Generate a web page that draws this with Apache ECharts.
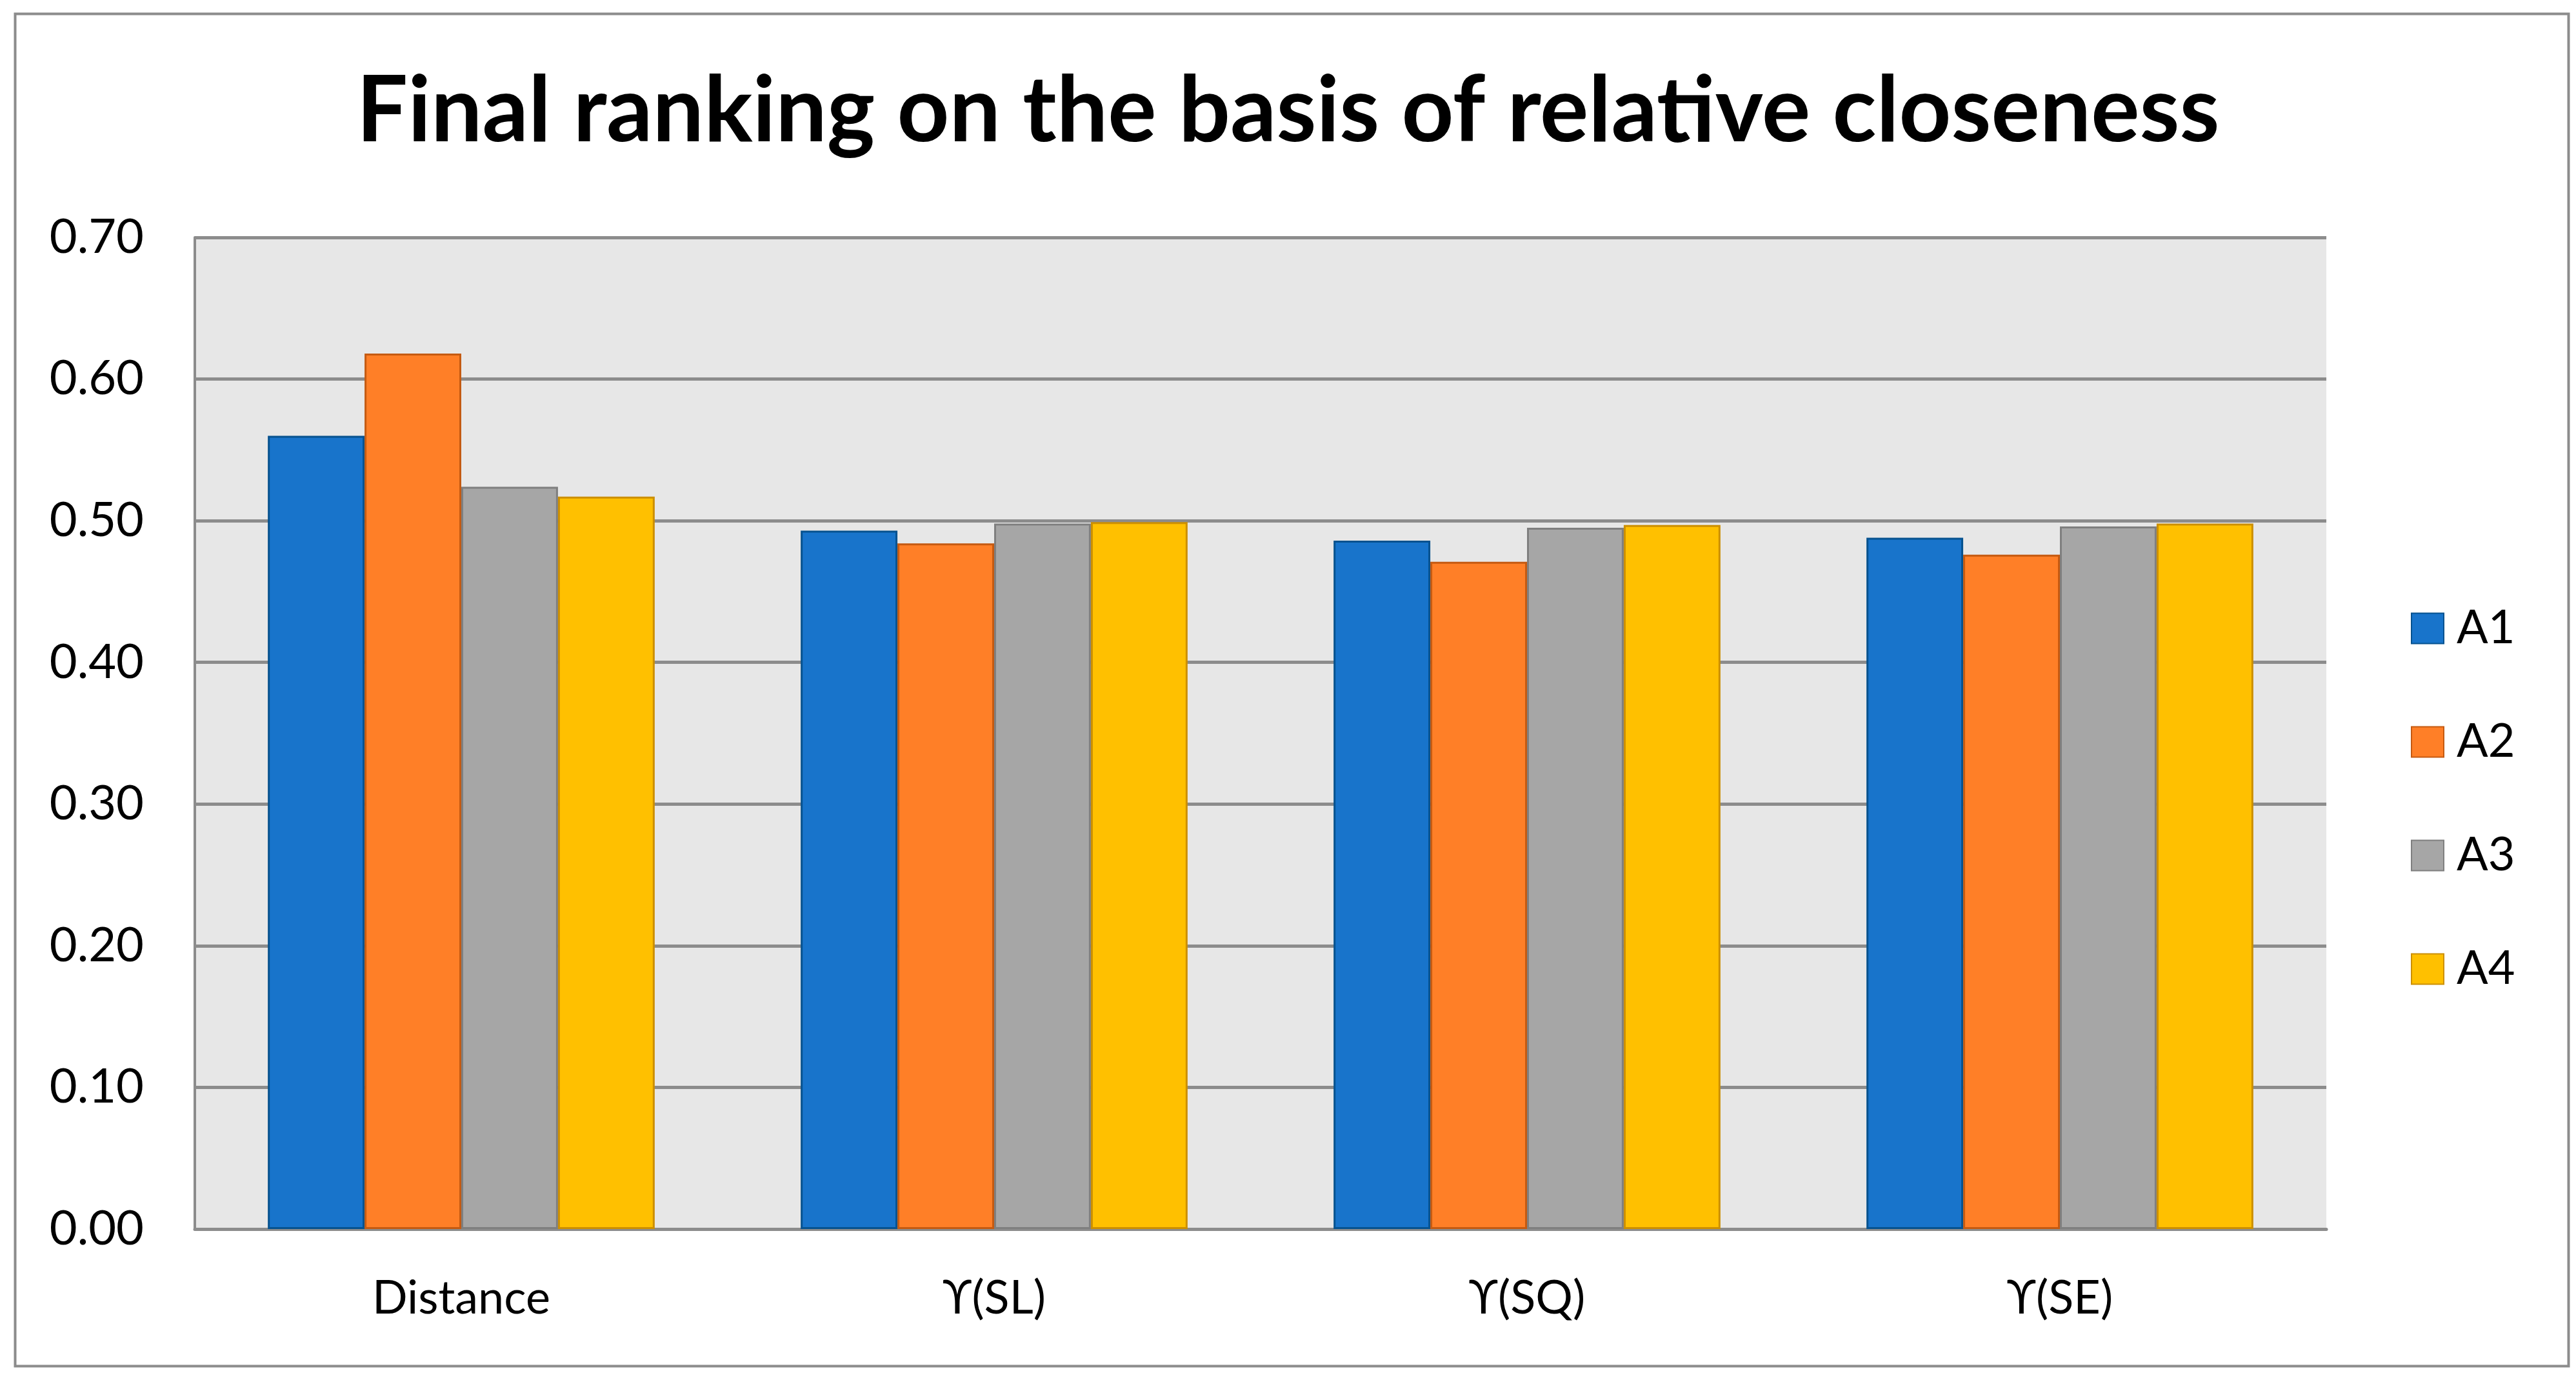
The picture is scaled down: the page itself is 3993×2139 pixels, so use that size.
<!DOCTYPE html>
<html>
<head>
<meta charset="utf-8">
<script src="https://cdn.jsdelivr.net/npm/echarts@6/dist/echarts.min.js"></script>
<style>
html,body{margin:0;padding:0;background:#fff;}
#chart{width:3993px;height:2139px;}
</style>
</head>
<body>
<div id="chart"></div>
<script>
const categories = ['Distance', '\u03D2(SL)', '\u03D2(SQ)', '\u03D2(SE)'];
const seriesNames = ['A1', 'A2', 'A3', 'A4'];
const A1 = [0.560, 0.493, 0.486, 0.488];
const A2 = [0.618, 0.484, 0.471, 0.476];
const A3 = [0.524, 0.498, 0.495, 0.496];
const A4 = [0.517, 0.499, 0.497, 0.498];
const yTicks = [0, 0.1, 0.2, 0.3, 0.4, 0.5, 0.6, 0.7];

const fills = ['#1874cb', '#ff7f27', '#a6a6a6', '#ffc000'];
const borders = ['#06528f', '#c55a11', '#7f7f7f', '#cc8f00'];
const values = [A1, A2, A3, A4];
const FONT = 'Lato';

const chart = echarts.init(document.getElementById('chart'), null, {renderer: 'canvas'});
chart.setOption({
  backgroundColor: '#ffffff',
  animation: false,
  title: {
    text: 'Final ranking on the basis of relative closeness',
    left: 'center',
    top: 98,
    textStyle: {fontFamily: FONT, fontWeight: 'bold', fontSize: 141, color: '#000'}
  },
  graphic: [{
    type: 'rect',
    left: 21, top: 19,
    shape: {width: 3958, height: 2096},
    style: {fill: 'none', stroke: '#8c8c8c', lineWidth: 4},
    silent: true
  }],
  legend: {
    orient: 'vertical',
    left: 3737,
    top: 938,
    padding: 0,
    icon: 'rect',
    itemWidth: 50,
    itemHeight: 47,
    itemGap: 104,
    textStyle: {fontFamily: FONT, fontSize: 72, color: '#000', padding: [0, 0, 0, 15]},
    data: seriesNames
  },
  grid: {
    left: 302, right: 387, top: 368, bottom: 234,
    show: true, backgroundColor: '#e7e7e7', borderWidth: 0,
    containLabel: false
  },
  xAxis: {
    type: 'category',
    data: categories,
    axisLine: {show: true, lineStyle: {color: '#8c8c8c', width: 5}},
    axisTick: {show: false},
    axisLabel: {fontFamily: FONT, fontSize: 72, color: '#000', margin: 72}
  },
  yAxis: {
    type: 'value',
    min: 0, max: 0.7, interval: 0.1,
    axisLine: {show: true, lineStyle: {color: '#8c8c8c', width: 4}},
    axisTick: {show: false},
    splitLine: {show: true, lineStyle: {color: '#8c8c8c', width: 5}},
    axisLabel: {
      fontFamily: FONT, fontSize: 74, color: '#000', margin: 79,
      formatter: function (v) { return yTicks.some(t => Math.abs(t - v) < 1e-9) ? v.toFixed(2) : ''; }
    }
  },
  series: seriesNames.map((name, i) => ({
    name: name,
    type: 'bar',
    data: values[i],
    barGap: '0%',
    barCategoryGap: '27.4%',
    itemStyle: {color: fills[i], borderColor: borders[i], borderWidth: 3}
  }))
});
</script>
</body>
</html>
